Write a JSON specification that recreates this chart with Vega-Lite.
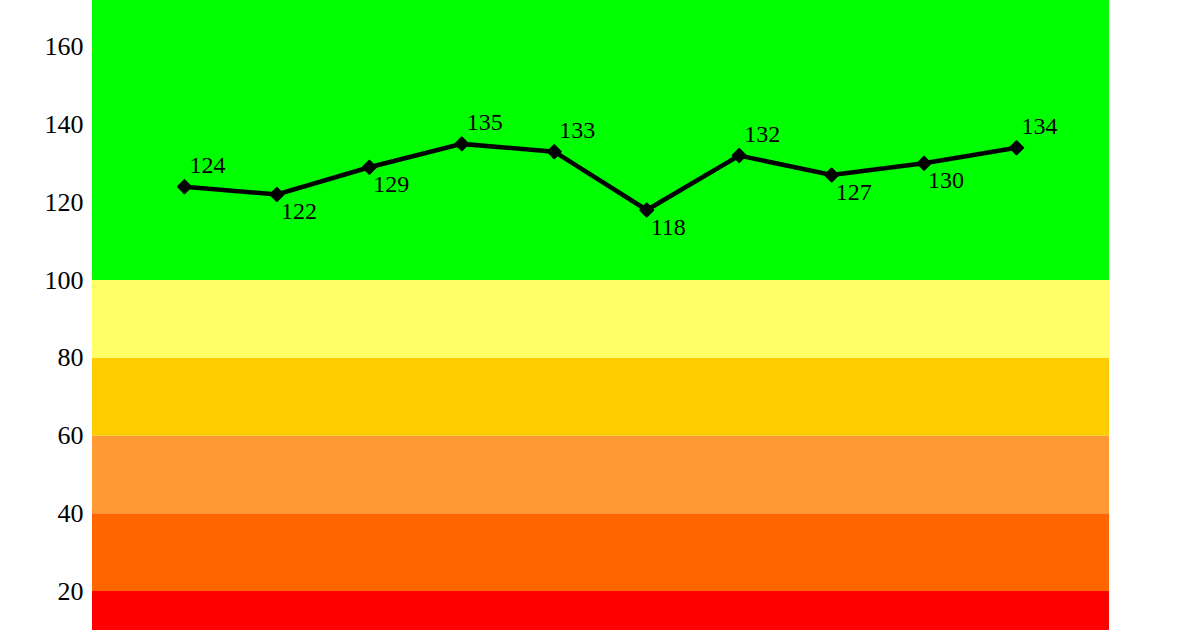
{
  "$schema": "https://vega.github.io/schema/vega-lite/v6.json",
  "width": 1017,
  "height": 630,
  "autosize": {"type": "none"},
  "padding": {"left": 92, "top": 0, "right": 91, "bottom": 0},
  "background": "white",
  "config": {"view": {"stroke": null}, "font": "Liberation Serif"},
  "datasets": {
    "bands": [
      {"lo": 0, "hi": 20, "band": "0-20"},
      {"lo": 20, "hi": 40, "band": "20-40"},
      {"lo": 40, "hi": 60, "band": "40-60"},
      {"lo": 60, "hi": 80, "band": "60-80"},
      {"lo": 80, "hi": 100, "band": "80-100"},
      {"lo": 100, "hi": 200, "band": "100+"}
    ],
    "series": [
      {"i": 1, "v": 124},
      {"i": 2, "v": 122},
      {"i": 3, "v": 129},
      {"i": 4, "v": 135},
      {"i": 5, "v": 133},
      {"i": 6, "v": 118},
      {"i": 7, "v": 132},
      {"i": 8, "v": 127},
      {"i": 9, "v": 130},
      {"i": 10, "v": 134}
    ]
  },
  "layer": [
    {
      "data": {"name": "bands"},
      "mark": {"type": "rect", "clip": true},
      "encoding": {
        "x": {"datum": 0, "type": "quantitative", "scale": {"domain": [0, 11]}, "axis": null},
        "x2": {"datum": 11},
        "y": {"field": "lo", "type": "quantitative", "scale": {"domain": [10, 172], "nice": false, "zero": false},
          "axis": {"values": [20, 40, 60, 80, 100, 120, 140, 160], "ticks": false, "domain": false, "grid": false, "labelFontSize": 26, "labelFont": "Liberation Serif", "labelColor": "black", "labelPadding": 9, "title": null}},
        "y2": {"field": "hi"},
        "color": {"field": "band", "type": "nominal", "legend": null,
          "scale": {"domain": ["0-20", "20-40", "40-60", "60-80", "80-100", "100+"],
                    "range": ["#FF0000", "#FF6600", "#FF9933", "#FFCC00", "#FFFF66", "#00FF00"]}}
      }
    },
    {
      "data": {"name": "series"},
      "mark": {"type": "line", "color": "black", "strokeWidth": 4.5},
      "encoding": {
        "x": {"field": "i", "type": "quantitative"},
        "y": {"field": "v", "type": "quantitative"}
      }
    },
    {
      "data": {"name": "series"},
      "mark": {"type": "point", "shape": "diamond", "filled": true, "color": "black", "size": 170, "stroke": "black", "strokeWidth": 2, "strokeJoin": "round", "opacity": 1},
      "encoding": {
        "x": {"field": "i", "type": "quantitative"},
        "y": {"field": "v", "type": "quantitative"}
      }
    },
    {
      "data": {"name": "series"},
      "transform": [{"filter": {"field": "i", "oneOf": [1, 4, 5, 7, 10]}}],
      "mark": {"type": "text", "align": "left", "baseline": "alphabetic", "dx": 5, "dy": -14, "fontSize": 24, "font": "Liberation Serif", "color": "black"},
      "encoding": {
        "x": {"field": "i", "type": "quantitative"},
        "y": {"field": "v", "type": "quantitative"},
        "text": {"field": "v", "type": "quantitative"}
      }
    },
    {
      "data": {"name": "series"},
      "transform": [{"filter": {"field": "i", "oneOf": [2, 3, 6, 8, 9]}}],
      "mark": {"type": "text", "align": "left", "baseline": "alphabetic", "dx": 4, "dy": 25, "fontSize": 24, "font": "Liberation Serif", "color": "black"},
      "encoding": {
        "x": {"field": "i", "type": "quantitative"},
        "y": {"field": "v", "type": "quantitative"},
        "text": {"field": "v", "type": "quantitative"}
      }
    }
  ]
}
